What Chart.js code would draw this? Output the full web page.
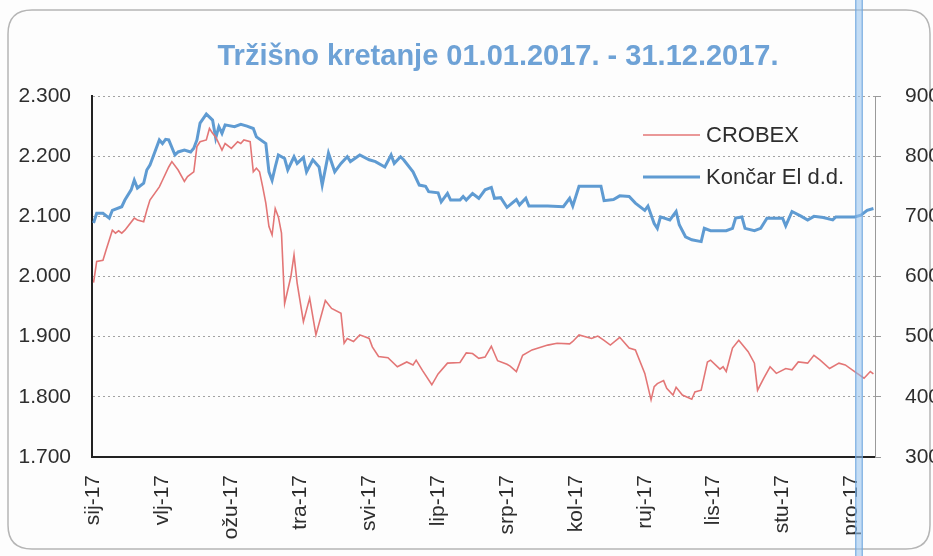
<!DOCTYPE html>
<html>
<head>
<meta charset="utf-8">
<script src="https://cdn.jsdelivr.net/npm/chart.js@4/dist/chart.umd.min.js"></script>
<style>
  html, body { margin: 0; padding: 0; background: #fdfdfd; }
  #wrap { position: relative; width: 933px; height: 556px; }
</style>
</head>
<body>
<div id="wrap"><canvas id="c" width="933" height="556"></canvas></div>
<script>
// ---------------- DATA ----------------
const titleText = 'Tržišno kretanje 01.01.2017. - 31.12.2017.';
const seriesNames = ['CROBEX', 'Končar El d.d.'];
const monthLabels = ['sij-17','vlj-17','ožu-17','tra-17','svi-17','lip-17','srp-17','kol-17','ruj-17','lis-17','stu-17','pro-17'];
const monthTickDays = [0,22,44,66,88,110,132,154,176,198,220,242];   // trading-day index of each label
const leftTicks = [1700,1800,1900,2000,2100,2200,2300];
const rightTicks = [300,400,500,600,700,800,900];

// CROBEX (left axis): trading-day index and index value
const crobexDays = [0,1,3,4,6,7,8,9,10,13,14,16,17,18,21,22,24,25,27,29,30,32,33,34,36,37,38,39,41,42,44,46,47,48,50,51,52,53,54,55,56,57,58,59,60,61,63,64,65,67,69,71,74,76,79,80,81,83,85,88,89,91,94,97,100,102,103,105,108,110,113,117,119,121,123,125,127,129,132,133,135,137,140,143,145,148,152,153,155,159,161,163,165,168,171,173,176,178,179,180,182,183,185,186,188,191,192,194,196,197,200,201,202,204,206,209,211,212,214,216,218,221,223,225,228,230,232,235,238,240,243,246,248,249];
const crobexValues = [1990,2025,2027,2044,2077,2072,2076,2072,2077,2097,2094,2091,2110,2127,2149,2160,2182,2191,2177,2158,2166,2174,2216,2224,2227,2246,2238,2232,2210,2221,2213,2224,2221,2227,2224,2174,2180,2174,2149,2122,2083,2069,2113,2099,2072,1955,2000,2036,1989,1925,1964,1903,1960,1947,1939,1889,1897,1892,1903,1897,1883,1867,1865,1850,1858,1853,1861,1844,1820,1838,1856,1857,1873,1872,1864,1866,1884,1860,1854,1851,1842,1869,1878,1883,1886,1889,1888,1892,1903,1897,1901,1894,1886,1899,1881,1878,1839,1795,1817,1822,1827,1814,1803,1816,1803,1796,1808,1811,1858,1861,1846,1850,1842,1881,1894,1875,1856,1811,1831,1850,1839,1847,1845,1858,1856,1869,1861,1847,1856,1853,1842,1831,1842,1838];

// Končar El d.d. (right axis): trading-day index and share price
const koncarDays = [0,1,3,5,6,9,10,12,13,14,16,17,18,19,21,22,23,24,26,27,29,31,32,33,34,36,38,39,40,41,42,45,47,49,51,52,55,56,57,58,59,61,62,64,65,67,68,70,72,73,75,77,79,81,82,85,88,90,93,95,96,98,99,102,104,106,107,110,111,113,114,117,118,119,121,123,125,127,128,130,132,135,136,138,139,145,150,152,153,155,162,163,166,168,171,173,176,177,179,180,181,184,186,187,189,191,194,195,197,202,204,205,207,208,211,213,215,220,221,223,226,228,230,233,236,237,243,245,247,249];
const koncarValues = [689,705,705,697,710,716,727,744,760,747,755,777,785,799,827,821,828,827,802,807,810,807,813,827,855,870,860,830,849,838,852,849,853,850,846,832,821,774,760,782,802,796,777,799,788,798,774,794,782,752,805,774,788,799,791,802,794,791,782,802,788,799,794,774,752,750,741,739,724,738,727,727,733,727,738,730,744,748,730,731,715,728,719,730,717,717,716,730,717,750,750,726,728,734,733,722,710,717,688,680,699,694,708,686,666,661,658,680,676,676,680,697,699,680,676,680,697,697,684,708,700,694,700,698,694,699,699,702,710,713];

// ---------------- CHART ----------------
const FONT = 'Liberation Sans, Arial, sans-serif';
const RED = '#e37676';
const BLUE = '#5f9bd2';

function rr(ctx, x, y, w, h, r) {
  ctx.beginPath();
  ctx.moveTo(x + r, y);
  ctx.lineTo(x + w - r, y);
  ctx.quadraticCurveTo(x + w, y, x + w, y + r);
  ctx.lineTo(x + w, y + h - r);
  ctx.quadraticCurveTo(x + w, y + h, x + w - r, y + h);
  ctx.lineTo(x + r, y + h);
  ctx.quadraticCurveTo(x, y + h, x, y + h - r);
  ctx.lineTo(x, y + r);
  ctx.quadraticCurveTo(x, y, x + r, y);
  ctx.closePath();
}

const decor = {
  id: 'decor',
  beforeDraw(chart) {
    const ctx = chart.ctx;
    ctx.save();
    ctx.fillStyle = '#fdfdfd';
    ctx.fillRect(0, 0, chart.width, chart.height);
    ctx.strokeStyle = '#b5b5b5';
    ctx.lineWidth = 1.5;
    rr(ctx, 8, 10, 922, 539, 24);
    ctx.stroke();
    ctx.restore();
  },
  afterDraw(chart) {
    const ctx = chart.ctx;
    const ca = chart.chartArea;
    ctx.save();
    // title
    ctx.font = 'bold 29px ' + FONT;
    ctx.fillStyle = '#6ea2d6';
    ctx.textAlign = 'center';
    ctx.textBaseline = 'middle';
    ctx.fillText(titleText, 498, 57);
    // legend inside plot area
    ctx.font = '22px ' + FONT;
    ctx.textAlign = 'left';
    chart.data.datasets.forEach((ds, i) => {
      const y = ca.top + 39 + i * 42;
      const x0 = ca.left + 551;
      ctx.strokeStyle = ds.borderColor;
      ctx.lineWidth = ds.borderWidth;
      ctx.beginPath();
      ctx.moveTo(x0, y);
      ctx.lineTo(x0 + 57, y);
      ctx.stroke();
      ctx.fillStyle = '#2e2e2e';
      ctx.fillText(ds.label, x0 + 63, y + 1);
    });
    // scanner stripe
    ctx.fillStyle = 'rgba(150,195,238,0.55)';
    ctx.fillRect(855, 0, 8, chart.height);
    ctx.fillStyle = 'rgba(95,155,215,0.55)';
    ctx.fillRect(855, 0, 1.5, chart.height);
    ctx.fillRect(861.5, 0, 1.5, chart.height);
    ctx.restore();
  }
};

const toPts = (days, vals) => days.map((d, i) => ({ x: d, y: vals[i] }));

new Chart(document.getElementById('c'), {
  type: 'line',
  data: {
    datasets: [
      { label: seriesNames[0], data: toPts(crobexDays, crobexValues), yAxisID: 'y',
        borderColor: RED, borderWidth: 1.6, pointRadius: 0, tension: 0, fill: false },
      { label: seriesNames[1], data: toPts(koncarDays, koncarValues), yAxisID: 'y1',
        borderColor: BLUE, borderWidth: 3, pointRadius: 0, tension: 0, fill: false }
    ]
  },
  options: {
    responsive: false,
    devicePixelRatio: 1,
    animation: false,
    layout: { padding: { top: 96, left: 0, right: 0, bottom: 0 } },
    plugins: { legend: { display: false }, title: { display: false }, tooltip: { enabled: false } },
    scales: {
      x: {
        type: 'linear', min: -0.5, max: 249.5,
        afterBuildTicks: s => { s.ticks = monthTickDays.map(v => ({ value: v })); },
        afterFit: s => { s.height = 99; },
        grid: { display: false },
        border: { display: true, color: '#222', width: 2 },
        ticks: {
          autoSkip: false, minRotation: 90, maxRotation: 90, padding: 10,
          color: '#2e2e2e', font: { family: FONT, size: 21 },
          callback: v => { const k = monthTickDays.indexOf(v); return k >= 0 ? monthLabels[k] : ''; }
        }
      },
      y: {
        position: 'left', min: 1700, max: 2300,
        afterBuildTicks: s => { s.ticks = leftTicks.map(v => ({ value: v })); },
        afterFit: s => { s.width = 92; },
        grid: { color: '#a2a2a2', lineWidth: 1, drawTicks: false },
        border: { display: true, color: '#222', width: 2, dash: [2, 3] },
        ticks: { padding: 21, color: '#2e2e2e', font: { family: FONT, size: 21 },
          callback: v => (v / 1000).toFixed(3) }
      },
      y1: {
        position: 'right', min: 300, max: 900,
        afterBuildTicks: s => { s.ticks = rightTicks.map(v => ({ value: v })); },
        afterFit: s => { s.width = 58; },
        grid: { drawOnChartArea: false, drawTicks: true, tickLength: 6, color: '#9a9a9a' },
        border: { display: true, color: '#9a9a9a', width: 1 },
        ticks: { padding: 24, color: '#2e2e2e', font: { family: FONT, size: 21 },
          callback: v => String(v) }
      }
    }
  },
  plugins: [decor]
});
</script>
</body>
</html>
